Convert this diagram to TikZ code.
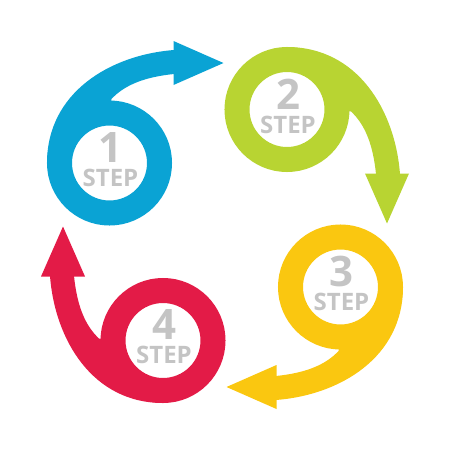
\documentclass[tikz,border=0pt]{standalone}
\usepackage{fontspec}
\setmainfont{Open Sans}
\definecolor{cblue}{HTML}{0AA3D4}
\definecolor{cgreen}{HTML}{B8D432}
\definecolor{cyellow}{HTML}{FAC710}
\definecolor{cred}{HTML}{E31B47}
\definecolor{cgray}{HTML}{C4C4C4}
\newcommand\mySpiral[4]{%
  \begin{scope}[shift={(#2,#3)}, rotate=#4]
    \fill[#1] (-62.5,0) .. controls (-62.5,-70) and (0,-108) .. (64.5,-113)
      -- (64.5,-89) .. controls (35,-86) and (15,-78) .. (2,-64)
      -- (0,-45) -- (-32,-32) -- (-45,0) -- cycle;
    \draw[#1, line width=25pt] (0,0) circle[radius=50];
    \fill[#1] (64,-122) -- (114,-100) -- (64,-78) -- cycle;
  \end{scope}}
\newcommand\stepLabel[1]{{\fontsize{42}{24}\selectfont #1}\\STEP}
\tikzset{
  steplabel/.style={text=cgray, font=\fontsize{24}{24}\selectfont\bfseries, align=center, anchor=center, inner sep=0pt}
}
\begin{document}
\begin{tikzpicture}[x=1pt, y=-1pt]
  \useasboundingbox (0,0) rectangle (450,450);
  \mySpiral{cblue}{109.5}{163}{0}
  \mySpiral{cgreen}{287}{109.5}{-90}
  \mySpiral{cyellow}{340.5}{287}{-180}
  \mySpiral{cred}{163}{340.5}{-270}
  \node[steplabel] (t1) at (110.5,159.5) {\stepLabel{1}};
  \node[steplabel] (t2) at (288,106) {\stepLabel{2}};
  \node[steplabel] (t3) at (341.5,283.5) {\stepLabel{3}};
  \node[steplabel] (t4) at (164,337) {\stepLabel{4}};
\end{tikzpicture}
\end{document}
